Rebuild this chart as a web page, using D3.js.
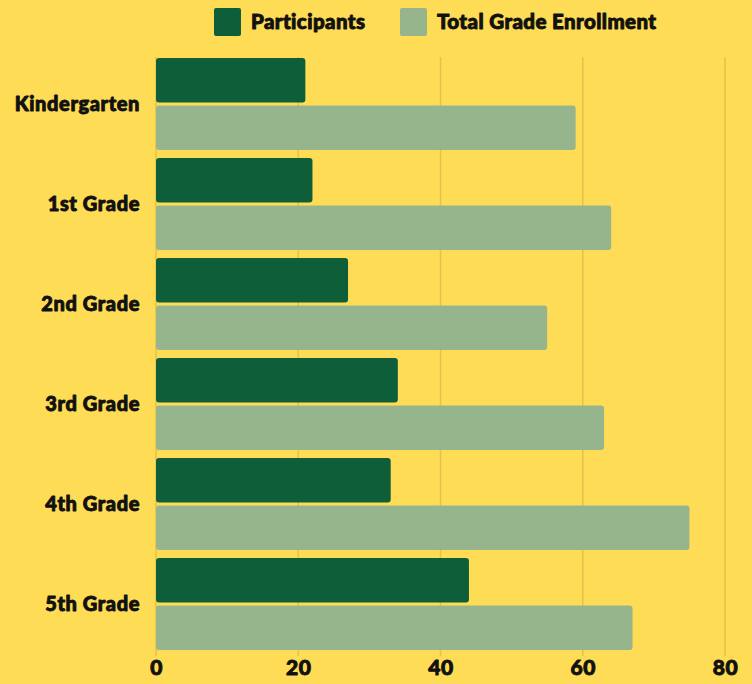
<!DOCTYPE html>
<html><head><meta charset="utf-8">
<script src="https://cdn.jsdelivr.net/npm/d3@7"></script>
<style>
html,body{margin:0;padding:0;background:#FEDC56;}
svg{display:block;}
text{font-family:"Lato","Open Sans",sans-serif;font-weight:900;fill:#111;stroke:#111;stroke-width:0.9px;stroke-linejoin:round;}
</style></head>
<body>
<svg id="chart" width="752" height="684"></svg>
<script>
const categories = ["Kindergarten","1st Grade","2nd Grade","3rd Grade","4th Grade","5th Grade"];
const seriesNames = ["Participants","Total Grade Enrollment"];
const participants = [21,22,27,34,33,44];
const enrollment = [59,64,55,63,75,67];
const xTicks = [0,20,40,60,80];
const colors = ["#0F5E3A","#97B58C"];

const svg = d3.select("#chart");
const W = 752, H = 684;
svg.append("rect").attr("width",W).attr("height",H).attr("fill","#FEDC56");

const x = d3.scaleLinear().domain([0,80]).range([156,725]);
const y = d3.scaleBand().domain(categories).range([54,654]).paddingInner(0.08).paddingOuter(0.04);
const ys = d3.scaleBand().domain(seriesNames).range([0,y.bandwidth()]).paddingInner(0.065);

// gridlines
svg.append("g").selectAll("line").data(xTicks).join("line")
  .attr("x1",d=>x(d)).attr("x2",d=>x(d))
  .attr("y1",57).attr("y2",656)
  .attr("stroke","#E2C24C").attr("stroke-width",1.5);

const data = categories.map((c,i)=>({cat:c, vals:[participants[i],enrollment[i]]}));
const g = svg.append("g");
data.forEach(d=>{
  d.vals.forEach((v,j)=>{
    g.append("rect")
      .attr("x",x(0))
      .attr("y",y(d.cat)+ys(seriesNames[j]))
      .attr("width",x(v)-x(0))
      .attr("height",ys.bandwidth())
      .attr("rx",3).attr("ry",3)
      .attr("fill",colors[j]);
  });
});

// y labels
svg.append("g").selectAll("text").data(categories).join("text")
  .attr("x",140)
  .attr("y",d=>y(d)+y.bandwidth()/2)
  .attr("dy","0.35em")
  .attr("text-anchor","end")
  .attr("font-size",20)
  .attr("letter-spacing",0.6)
  .text(d=>d);

// x axis labels
const xAxis = d3.axisBottom(x).tickValues(xTicks).tickSize(0).tickPadding(0);
const ax = svg.append("g").attr("transform","translate(0,660)").call(xAxis);
ax.select(".domain").remove();
ax.selectAll("text").attr("font-size",21).attr("dy","0.71em").attr("letter-spacing",0.5)
  .style("font-family","Lato, sans-serif").style("font-weight",900)
  .attr("fill","#111").attr("stroke","#111").attr("stroke-width",1.1);

// legend
const legendX = [214,400];
const lg = svg.append("g");
seriesNames.forEach((s,i)=>{
  lg.append("rect").attr("x",legendX[i]).attr("y",8).attr("width",27).attr("height",28).attr("rx",2).attr("fill",colors[i]);
  lg.append("text").attr("x",legendX[i]+37).attr("y",22).attr("dy","0.35em").attr("font-size",20.5).attr("letter-spacing",0.4).text(s);
});
</script>
</body></html>
